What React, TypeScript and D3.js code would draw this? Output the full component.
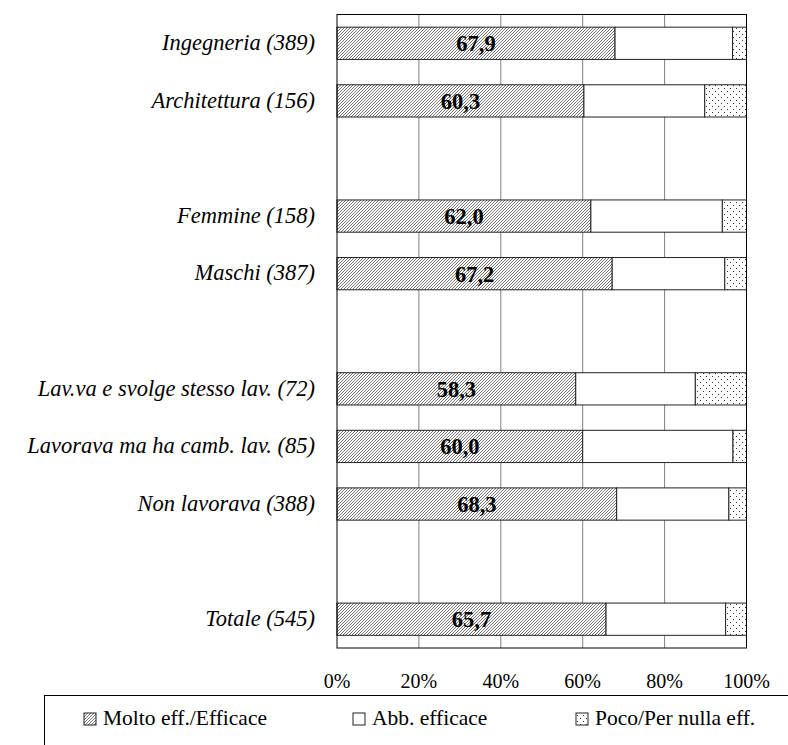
import React from 'react';
import * as d3 from 'd3';

// categories (empty strings are the blank separator rows)
const categories: string[] = [
  'Ingegneria (389)',
  'Architettura (156)',
  '',
  'Femmine (158)',
  'Maschi (387)',
  '',
  'Lav.va e svolge stesso lav. (72)',
  'Lavorava ma ha camb. lav. (85)',
  'Non lavorava (388)',
  '',
  'Totale (545)',
];

const molto: (number | null)[] = [67.9, 60.3, null, 62.0, 67.2, null, 58.3, 60.0, 68.3, null, 65.7];
const abb: (number | null)[] = [28.7, 29.5, null, 32.1, 27.5, null, 29.2, 36.7, 27.4, null, 29.2];
const poco: (number | null)[] = [3.4, 10.2, null, 5.9, 5.3, null, 12.5, 3.3, 4.3, null, 5.1];

const seriesNames = ['Molto eff./Efficace', 'Abb. efficace', 'Poco/Per nulla eff.'];
const ticks = [0, 20, 40, 60, 80, 100];

const W = 788;
const H = 745;
const FONT = '"Liberation Serif", "Times New Roman", serif';

const App: React.FC = () => {
  const x = d3.scaleLinear().domain([0, 100]).range([337, 746.5]);
  const y = d3
    .scaleBand<number>()
    .domain(categories.map((_, i) => i))
    .range([14.5, 648])
    .paddingInner(0.44)
    .paddingOuter(0.22);

  const rows = categories
    .map((c, i) => ({ i, c, molto: molto[i], abb: abb[i], poco: poco[i] }))
    .filter((r) => r.molto !== null);

  const stack = d3
    .stack<any>()
    .keys(['molto', 'abb', 'poco'])(rows as any);

  const fills = ['url(#hatch)', '#ffffff', 'url(#dots)'];
  const fmt = (v: number) => v.toFixed(1).replace('.', ',');

  // legend swatch positions
  const legendX = [84, 353, 576];

  return (
    <svg
      width={W}
      height={H}
      style={{ position: 'absolute', left: 0, top: 0, background: '#fff' }}
      fontFamily={FONT}
    >
      <defs>
        <pattern id="hatch" patternUnits="userSpaceOnUse" width={3} height={3}>
          <rect width={3} height={3} fill="#fff" />
          <path d="M0,3 L3,0 M-1,1 L1,-1 M2,4 L4,2" stroke="#3a3a3a" strokeWidth={0.7} />
        </pattern>
        <pattern id="dots" patternUnits="userSpaceOnUse" width={6} height={6}>
          <rect width={6} height={6} fill="#fff" />
          <rect x={1} y={1} width={1} height={1} fill="#333" />
          <rect x={4} y={4} width={1} height={1} fill="#333" />
        </pattern>
      </defs>

      {/* gridlines */}
      {ticks.slice(1, -1).map((t) => (
        <line key={t} x1={x(t)} x2={x(t)} y1={y.range()[0]} y2={y.range()[1]} stroke="#808080" strokeWidth={1} />
      ))}

      {/* bars */}
      {stack.map((s, si) => (
        <g key={si}>
          {s.map((d: any) => (
            <rect
              key={d.data.i}
              x={x(d[0])}
              y={y(d.data.i)!}
              width={x(d[1]) - x(d[0])}
              height={y.bandwidth()}
              fill={fills[si]}
              stroke="#222"
              strokeWidth={1}
            />
          ))}
        </g>
      ))}

      {/* value labels */}
      {stack[0].map((d: any) => (
        <text
          key={d.data.i}
          x={(x(d[0]) + x(d[1])) / 2}
          y={y(d.data.i)! + y.bandwidth() / 2}
          dy="0.35em"
          textAnchor="middle"
          fontWeight="bold"
          fontSize={22.5}
          fill="#000"
        >
          {fmt(d.data.molto)}
        </text>
      ))}

      {/* plot frame */}
      <rect
        x={x(0)}
        y={y.range()[0]}
        width={x(100) - x(0)}
        height={y.range()[1] - y.range()[0]}
        fill="none"
        stroke="#000"
        strokeWidth={1}
      />

      {/* category labels */}
      {rows.map((r) => (
        <text
          key={r.i}
          x={315}
          y={y(r.i)! + y.bandwidth() / 2}
          dy="0.3em"
          textAnchor="end"
          fontStyle="italic"
          fontSize={22.5}
          fill="#000"
        >
          {r.c}
        </text>
      ))}

      {/* x tick labels */}
      {ticks.map((t) => (
        <text key={t} x={x(t)} y={688} textAnchor="middle" fontSize={20} fill="#000">
          {t}%
        </text>
      ))}

      {/* legend */}
      <rect x={44.5} y={695.5} width={W} height={80} fill="none" stroke="#000" strokeWidth={1} />
      {seriesNames.map((n, i) => (
        <g key={n} transform={`translate(${legendX[i]},0)`}>
          <rect x={0} y={713} width={12} height={12} fill={fills[i]} stroke="#222" strokeWidth={1} />
          <text x={19} y={725} fontSize={21.5} fill="#000">
            {n}
          </text>
        </g>
      ))}
    </svg>
  );
};

export default App;
